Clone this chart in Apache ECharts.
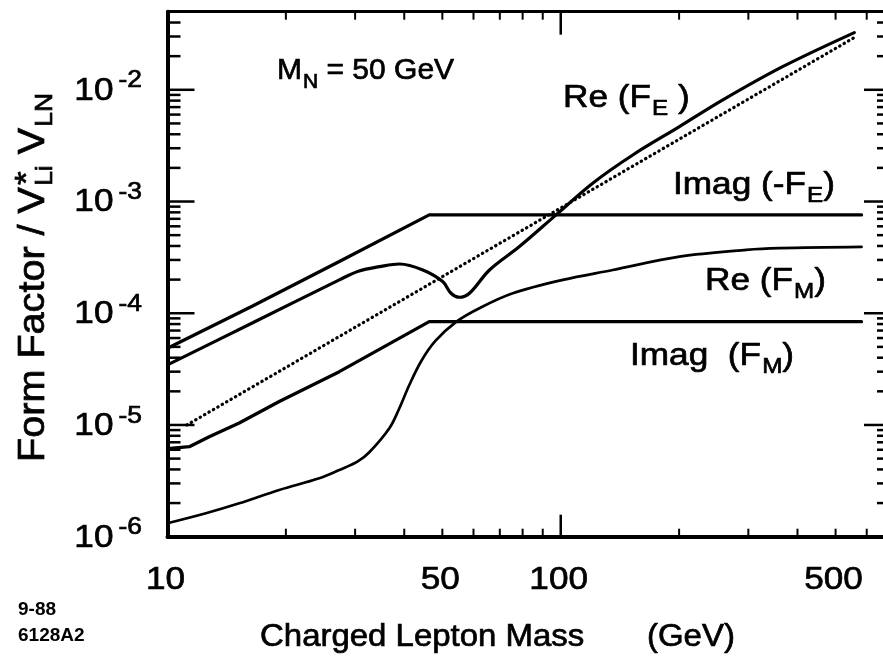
<!DOCTYPE html>
<html>
<head>
<meta charset="utf-8">
<script src="https://cdn.jsdelivr.net/npm/echarts@6/dist/echarts.min.js"></script>
<style>
html, body { margin: 0; padding: 0; background: #fff; }
#chart-container { width: 883px; height: 663px; }
</style>
</head>
<body>
<div id="chart-container"></div>
<script>
// values: [charged lepton mass (GeV), form factor]
var imagFE = [[10, 4.86e-5], [16.46, 1.16e-4], [27.35, 2.9e-4], [46.3, 7.59e-4], [582, 7.59e-4]];
var reFE = [[10, 3.45e-5], [16.52, 8.26e-5], [27.35, 1.99e-4], [30.7, 2.39e-4], [34.6, 2.61e-4],
  [38.9, 2.76e-4], [44.6, 2.44e-4], [50.1, 1.92e-4], [52.6, 1.51e-4], [55.2, 1.39e-4],
  [58.6, 1.51e-4], [65.9, 2.44e-4], [78.5, 3.95e-4], [97.3, 7.6e-4], [120.6, 1.46e-3],
  [152.5, 2.61e-3], [200.4, 4.68e-3], [258.4, 8.12e-3], [366.6, 1.61e-2], [558, 3.25e-2]];
var imagFM = [[10, 6.15e-6], [11.36, 6.39e-6], [12.77, 7.86e-6], [15.22, 1.04e-5], [19.24, 1.62e-5],
  [27.35, 3.0e-5], [46.3, 8.41e-5], [582, 8.41e-5]];
var reFM = [[10, 1.32e-6], [12.52, 1.62e-6], [15.22, 1.99e-6], [19.24, 2.62e-6], [24.32, 3.33e-6],
  [27.35, 3.95e-6], [30.4, 4.69e-6], [32.6, 5.7e-6], [36.7, 9.4e-6], [38.9, 1.42e-5],
  [41.2, 2.28e-5], [44.2, 3.74e-5], [48.0, 5.65e-5], [54.3, 8.41e-5], [62.1, 1.11e-4],
  [75.5, 1.51e-4], [101.2, 1.99e-4], [135.6, 2.44e-4], [200.4, 3.21e-4], [296.4, 3.69e-4],
  [360, 3.82e-4], [582, 3.92e-4]];
var dottedRef = [[11.2, 1e-5], [562, 2.98e-2]];

var xMin = 10, xMax = 660, yMin = 1e-6, yMax = 0.05;
var xLabels = [10, 50, 100, 500];
var yLabelExps = [-6, -5, -4, -3, -2];
var xMajorTicks = [100];
var xMinorTicks = [20, 30, 40, 50, 60, 70, 80, 90, 200, 300, 400, 500, 600];
var yMajorTicks = [1e-6, 1e-5, 1e-4, 1e-3, 1e-2];
var yMinorTicks = [];
[1e-6, 1e-5, 1e-4, 1e-3].forEach(function (d) {
  for (var k = 2; k <= 9; k++) yMinorTicks.push(k * d);
});
yMinorTicks.push(2e-2, 3e-2, 4e-2);

var FONT = '"Liberation Sans", Arial, Helvetica, sans-serif';
var TS = 1.1; // the original lettering is a little wider than Arial
var INK = 0.7; // scanned lettering is a bit heavier than the plain font

var dom = document.getElementById('chart-container');
var myChart = echarts.init(dom, null, { renderer: 'canvas' });

function tickSeries(values, side, len, width) {
  var data = values.map(function (v) {
    if (side === 'bottom') return [v, yMin];
    if (side === 'top') return [v, yMax];
    if (side === 'left') return [xMin, v];
    return [xMax, v];
  });
  return {
    type: 'custom', silent: true, data: data, z: 5,
    renderItem: function (params, api) {
      var p = api.coord([api.value(0), api.value(1)]);
      var x2 = p[0], y2 = p[1];
      if (side === 'bottom') y2 -= len;
      if (side === 'top') y2 += len;
      if (side === 'left') x2 += len;
      if (side === 'right') x2 -= len;
      return { type: 'line', shape: { x1: p[0], y1: p[1], x2: x2, y2: y2 },
        style: { stroke: '#000', lineWidth: width } };
    }
  };
}

function lineSeries(name, data, width, smooth, dash) {
  return {
    name: name, type: 'line', data: data, showSymbol: false, smooth: smooth,
    silent: true, z: 3,
    lineStyle: { color: '#000', width: width, type: dash || 'solid', cap: 'round' }
  };
}

function measure(txt, size) {
  var c = document.createElement('canvas').getContext('2d');
  c.font = size + 'px ' + FONT;
  return c.measureText(txt).width;
}

var mainRich = {
  m: { fontSize: 32, fontFamily: FONT, fill: '#000', stroke: '#000', lineWidth: INK },
  s: { fontSize: 22, fontFamily: FONT, fill: '#000', stroke: '#000', lineWidth: INK, padding: [21, 0, 0, 1] }
};

function curveLabel(x, y, head, sub, tail) {
  return {
    type: 'text', x: x, y: y, scaleX: TS, silent: true,
    style: { text: '{m|' + head + '}{s|' + sub + '}{m|' + tail + '}', rich: mainRich,
      fill: '#000', align: 'left', verticalAlign: 'middle' }
  };
}

var yTitleHead = 'Form Factor / V';

option = {
  animation: false,
  backgroundColor: '#fff',
  grid: { left: 167.5, right: 0, top: 11.7, bottom: 126.3 },
  xAxis: [
    { type: 'log', min: xMin, max: xMax, position: 'bottom',
      axisLine: { lineStyle: { color: '#000', width: 4 } },
      axisTick: { show: false }, axisLabel: { show: false }, splitLine: { show: false } },
    { type: 'log', min: xMin, max: xMax, position: 'top',
      axisLine: { lineStyle: { color: '#000', width: 3 } },
      axisTick: { show: false }, axisLabel: { show: false }, splitLine: { show: false } }
  ],
  yAxis: [
    { type: 'log', min: yMin, max: yMax, position: 'left',
      axisLine: { lineStyle: { color: '#000', width: 4 } },
      axisTick: { show: false }, axisLabel: { show: false }, splitLine: { show: false } },
    { type: 'log', min: yMin, max: yMax, position: 'right',
      axisLine: { show: false },
      axisTick: { show: false }, axisLabel: { show: false }, splitLine: { show: false } }
  ],
  series: [
    lineSeries('Imag (-FE)', imagFE, 3.3, false),
    lineSeries('Re (FE)', reFE, 3.2, 0.35),
    lineSeries('Imag (FM)', imagFM, 3.3, false),
    lineSeries('Re (FM)', reFM, 2.7, 0.35),
    lineSeries('ref', dottedRef, 3.2, false, [0.4, 4.7]),
    tickSeries(xMinorTicks, 'bottom', 8, 2),
    tickSeries(xMajorTicks, 'bottom', 22, 2.5),
    tickSeries(xMinorTicks, 'top', 8, 2),
    tickSeries(xMajorTicks, 'top', 23, 2.5),
    tickSeries(yMinorTicks, 'left', 13, 2.5),
    tickSeries(yMajorTicks, 'left', 27, 2.5),
    tickSeries(yMinorTicks, 'right', 6, 2.5),
    tickSeries(yMajorTicks, 'right', 19, 2.5),
    {
      type: 'custom', silent: true, z: 6,
      data: xLabels.map(function (v) { return [v, yMin]; }),
      renderItem: function (params, api) {
        var p = api.coord([api.value(0), api.value(1)]);
        return { type: 'text', x: p[0] - 2, y: p[1] + 43, scaleX: TS,
          style: { text: String(xLabels[params.dataIndex]), fontSize: 32, fontFamily: FONT,
            fill: '#000', stroke: '#000', lineWidth: INK, align: 'center', verticalAlign: 'middle' } };
      }
    },
    {
      type: 'custom', silent: true, z: 6,
      data: yLabelExps.map(function (e) { return [xMin, Math.pow(10, e)]; }),
      renderItem: function (params, api) {
        var p = api.coord([api.value(0), api.value(1)]);
        var e = yLabelExps[params.dataIndex];
        return { type: 'group', children: [
          { type: 'text', x: p[0] - 54, y: p[1] + 1, scaleX: TS,
            style: { text: '10', fontSize: 32, fontFamily: FONT, fill: '#000',
              stroke: '#000', lineWidth: INK, align: 'right', verticalAlign: 'middle' } },
          { type: 'text', x: p[0] - 49, y: p[1] - 9, scaleX: TS,
            style: { text: '-' + Math.abs(e), fontSize: 24, fontFamily: FONT, fill: '#000',
              stroke: '#000', lineWidth: INK, align: 'left', verticalAlign: 'middle' } }
        ] };
      }
    }
  ],
  graphic: [
    {
      type: 'text', x: 277, y: 71, silent: true,
      style: { text: '{m|M}{s|N}{m| = 50 GeV}', fill: '#000', align: 'left', verticalAlign: 'middle',
        rich: { m: { fontSize: 30, fontFamily: FONT, fill: '#000', stroke: '#000', lineWidth: INK },
          s: { fontSize: 21, fontFamily: FONT, fill: '#000', stroke: '#000', lineWidth: INK,
            padding: [22, 0, 0, 1] } } }
    },
    curveLabel(563, 98.5, 'Re (F', 'E', ' )'),
    curveLabel(673, 185.5, 'Imag (-F', 'E', ')'),
    curveLabel(705, 281.5, 'Re (F', 'M', ')'),
    curveLabel(630, 356.5, 'Imag  (F', 'M', ')'),
    {
      type: 'text', x: 260, y: 637, scaleX: 1.03, silent: true,
      style: { text: 'Charged Lepton Mass', fontSize: 32, fontFamily: FONT, fill: '#000',
        stroke: '#000', lineWidth: INK, align: 'left', verticalAlign: 'middle' }
    },
    {
      type: 'text', x: 647, y: 637, scaleX: 1.03, silent: true,
      style: { text: '(GeV)', fontSize: 32, fontFamily: FONT, fill: '#000',
        stroke: '#000', lineWidth: INK, align: 'left', verticalAlign: 'middle' }
    },
    {
      type: 'group', x: 34, y: 462, rotation: Math.PI / 2, silent: true,
      children: [
        { type: 'text', x: 0, y: 0, scaleX: TS,
          style: { text: '{m|' + yTitleHead + '}{s|Li}{m| V}{s|LN}', fill: '#000',
            align: 'left', verticalAlign: 'middle',
            rich: { m: { fontSize: 36, fontFamily: FONT, fill: '#000', stroke: '#000', lineWidth: INK },
              s: { fontSize: 24, fontFamily: FONT, fill: '#000', stroke: '#000', lineWidth: INK,
                padding: [23, 0, 0, 1] } } } },
        { type: 'text', x: measure(yTitleHead, 36) * TS + 2, y: -6, scaleX: TS,
          style: { text: '*', fontSize: 32, fontFamily: FONT, fill: '#000',
            stroke: '#000', lineWidth: INK, align: 'left', verticalAlign: 'middle' } }
      ]
    },
    {
      type: 'text', x: 18, y: 610, silent: true,
      style: { text: '9-88', fontSize: 19, fontWeight: 'bold', fontFamily: FONT, fill: '#000',
        align: 'left', verticalAlign: 'middle' }
    },
    {
      type: 'text', x: 18, y: 636, silent: true,
      style: { text: '6128A2', fontSize: 19, fontWeight: 'bold', fontFamily: FONT, fill: '#000',
        align: 'left', verticalAlign: 'middle' }
    }
  ]
};

if (option && typeof option === 'object') {
  myChart.setOption(option);
}

window.addEventListener('resize', myChart.resize);
</script>
</body>
</html>
